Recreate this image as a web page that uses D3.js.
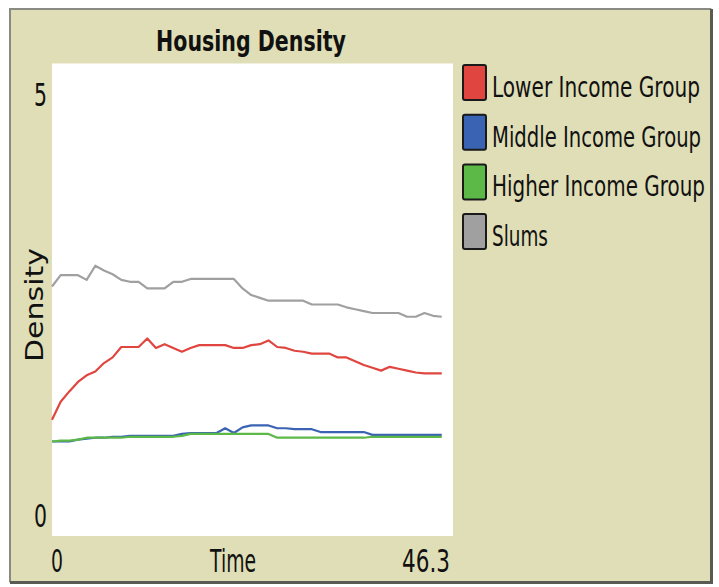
<!DOCTYPE html>
<html lang="en">
<head>
<meta charset="utf-8">
<title>Housing Density</title>
<script src="https://d3js.org/d3.v7.min.js"></script>
<style>
  html, body { margin: 0; padding: 0; background: #fff; }
  svg { display: block; }
  text { font-family: "DejaVu Sans", sans-serif; fill: #111; }
</style>
</head>
<body>
<svg id="chart" width="719" height="587"></svg>
<script>
// time steps 0..45, x axis shows 0..46.3
const times = d3.range(0, 46);
const xMax = 46.3;
const yMax = 5;

const seriesNames = ["Lower Income Group", "Middle Income Group", "Higher Income Group", "Slums"];
const seriesColors = ["#e0463f", "#3b63b3", "#5cb947", "#a0a0a0"];

const lowerIncome = [1.23, 1.42, 1.53, 1.63, 1.70, 1.74, 1.83, 1.89, 2.00, 2.00,
  2.00, 2.09, 1.99, 2.03, 1.99, 1.95, 1.99, 2.02, 2.02, 2.02,
  2.02, 1.99, 1.99, 2.02, 2.03, 2.07, 2.00, 1.99, 1.96, 1.95,
  1.93, 1.93, 1.93, 1.89, 1.89, 1.85, 1.81, 1.78, 1.75, 1.79,
  1.77, 1.75, 1.73, 1.72, 1.72, 1.72];
const middleIncome = [1.00, 1.00, 1.00, 1.02, 1.03, 1.04, 1.04, 1.05, 1.05, 1.06,
  1.06, 1.06, 1.06, 1.06, 1.06, 1.08, 1.09, 1.09, 1.09, 1.09,
  1.14, 1.09, 1.15, 1.17, 1.17, 1.17, 1.14, 1.14, 1.13, 1.13,
  1.13, 1.10, 1.10, 1.10, 1.10, 1.10, 1.10, 1.07, 1.07, 1.07,
  1.07, 1.07, 1.07, 1.07, 1.07, 1.07];
const higherIncome = [1.00, 1.01, 1.01, 1.02, 1.04, 1.04, 1.04, 1.04, 1.04, 1.05,
  1.05, 1.05, 1.05, 1.05, 1.05, 1.06, 1.08, 1.08, 1.08, 1.08,
  1.08, 1.08, 1.08, 1.08, 1.08, 1.08, 1.04, 1.04, 1.04, 1.04,
  1.04, 1.04, 1.04, 1.04, 1.04, 1.04, 1.04, 1.05, 1.05, 1.05,
  1.05, 1.05, 1.05, 1.05, 1.05, 1.05];
const slums = [2.64, 2.76, 2.76, 2.76, 2.71, 2.86, 2.81, 2.77, 2.71, 2.69,
  2.69, 2.62, 2.62, 2.62, 2.69, 2.69, 2.72, 2.72, 2.72, 2.72,
  2.72, 2.72, 2.62, 2.55, 2.52, 2.49, 2.49, 2.49, 2.49, 2.49,
  2.45, 2.45, 2.45, 2.45, 2.42, 2.40, 2.38, 2.36, 2.36, 2.36,
  2.36, 2.32, 2.32, 2.36, 2.33, 2.32];

const allSeries = [lowerIncome, middleIncome, higherIncome, slums];

const svg = d3.select("#chart");

// widget frame
svg.append("rect").attr("x", 9).attr("y", 8).attr("width", 703).attr("height", 575)
  .attr("fill", "#dfdeb6");
svg.append("path").attr("d", "M 10 582 V 9 H 711").attr("fill", "none")
  .attr("stroke", "#8a8a85").attr("stroke-width", 2);
svg.append("path").attr("d", "M 10 582.5 H 711.5 V 9").attr("fill", "none")
  .attr("stroke", "#5a5a55").attr("stroke-width", 3);

const x = d3.scaleLinear().domain([0, xMax]).range([52, 453]);
const y = d3.scaleLinear().domain([0, yMax]).range([536, 63.5]);

// plot area
svg.append("rect")
  .attr("x", x(0)).attr("y", y(yMax))
  .attr("width", x(xMax) - x(0)).attr("height", y(0) - y(yMax))
  .attr("fill", "#fff");

// helper for the squeezed NetLogo-like labels: tall font, narrowed to a width
function label(g, txt, px, py, size, len, anchor, weight) {
  const t = g.append("text")
    .attr("x", 0).attr("y", 0)
    .attr("font-size", size)
    .attr("font-weight", weight || "normal")
    .attr("text-anchor", anchor)
    .text(txt);
  const w = t.node().getComputedTextLength();
  t.attr("transform", "translate(" + px + "," + py + ") scale(" + (len / w) + ",1)");
  return t;
}

label(svg, "Housing Density", 251, 51, 29, 190, "middle", "bold");

// y axis labels
label(svg, String(yMax), 47, y(yMax) + 42, 32, 13, "end");
label(svg, "0", 47, y(0) - 9, 32, 13, "end");
svg.append("g").attr("transform", "translate(43,305) rotate(-90)")
  .call(g => label(g, "Density", 0, 0, 25, 114, "middle"));

// x axis labels
label(svg, "0", x(0) - 1, 572, 32, 12, "start");
label(svg, "Time", 233, 572, 32, 46, "middle");
label(svg, String(xMax), x(xMax) - 3, 572, 32, 48, "end");

// lines
const line = d3.line()
  .x((d, i) => x(times[i]))
  .y(d => y(d));

svg.append("g")
  .selectAll("path.series")
  .data(allSeries)
  .join("path")
  .attr("class", "series")
  .attr("d", line)
  .attr("fill", "none")
  .attr("stroke", (d, i) => seriesColors[i])
  .attr("stroke-width", 2.2)
  .attr("stroke-linejoin", "round");

// legend
const legend = svg.append("g").attr("transform", "translate(462,64)");
const rows = legend.selectAll("g.row").data(seriesNames).join("g")
  .attr("class", "row")
  .attr("transform", (d, i) => "translate(0," + (i * 49.7) + ")");
rows.append("rect")
  .attr("x", 1).attr("y", 1).attr("width", 23).attr("height", 35)
  .attr("rx", 2)
  .attr("fill", (d, i) => seriesColors[i])
  .attr("stroke", "#1a1a1a").attr("stroke-width", 2);
const legendLens = [208, 209, 213, 56];
rows.each(function(d, i) {
  label(d3.select(this), d, 30, 33, 29, legendLens[i], "start");
});
</script>
</body>
</html>
